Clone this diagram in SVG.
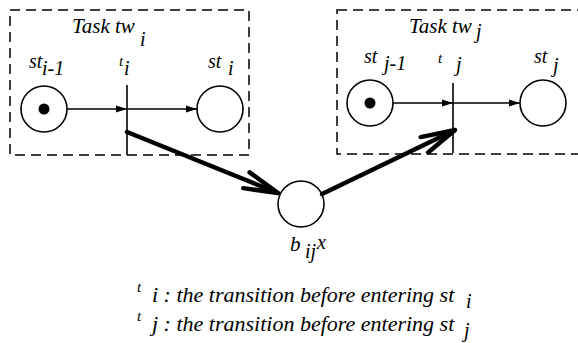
<svg xmlns="http://www.w3.org/2000/svg" width="578" height="343" viewBox="0 0 578 343">
<style>
text{font-family:"Liberation Serif","Times New Roman",serif;font-style:italic;fill:#000}
.box{fill:none;stroke:#000;stroke-width:1.5;stroke-dasharray:10 6}
.place{fill:#fff;stroke:#000;stroke-width:1.6}
.trans{stroke:#000;stroke-width:1.6}
.thin{stroke:#000;stroke-width:1.3;fill:none}
.thick{stroke:#000;stroke-width:4.5;fill:none}
.lbl{font-size:21px}
.sub{font-size:20px}
.tt{font-size:15px}
.note{font-size:22px}
</style>
<defs>
<marker id="ah" markerUnits="userSpaceOnUse" viewBox="-12 -5 13 10" refX="0" refY="0" markerWidth="13" markerHeight="10" orient="auto">
<path d="M-11,-3.5 L0,0 L-11,3.5 Z" fill="#000"/>
</marker>
<marker id="vh" markerUnits="userSpaceOnUse" viewBox="-40 -14 44 28" refX="0" refY="0" markerWidth="44" markerHeight="28" orient="auto" overflow="visible">
<path d="M-34,-8.5 L0,0 L-34,8.5" fill="none" stroke="#000" stroke-width="4.5" stroke-linecap="round" stroke-linejoin="miter"/>
</marker>
</defs>
<g id="task-i">
<rect class="box" x="10" y="10" width="239" height="145"/>
<text class="lbl" x="72" y="33">Task tw</text>
<text class="sub" x="140" y="46">i</text>
</g>
<g id="task-j">
<rect class="box" x="337" y="10" width="250" height="144"/>
<text class="lbl" x="409" y="33">Task tw</text>
<text class="sub" x="476" y="38">j</text>
</g>
<g id="st-i-1">
<circle class="place" cx="44" cy="109" r="23"/>
<circle cx="44" cy="109" r="5.5" fill="#000"/>
<text class="sub" x="29" y="68">st</text>
<text class="sub" x="42" y="75">i-1</text>
</g>
<g id="t-i">
<line class="trans" x1="127" y1="85" x2="127" y2="155"/>
<text class="tt" x="119" y="66">t</text>
<text class="sub" x="124" y="75">i</text>
</g>
<g id="st-i">
<circle class="place" cx="220" cy="109" r="23"/>
<text class="sub" x="208" y="68">st</text>
<text class="sub" x="228" y="75">i</text>
</g>
<g id="st-j-1">
<circle class="place" cx="370" cy="103" r="23"/>
<circle cx="370" cy="103" r="5.5" fill="#000"/>
<text class="sub" x="364" y="63">st</text>
<text class="sub" x="384" y="70">j-1</text>
</g>
<g id="t-j">
<line class="trans" x1="453" y1="83" x2="453" y2="153"/>
<text class="tt" x="438" y="63">t</text>
<text class="sub" x="456" y="71">j</text>
</g>
<g id="st-j">
<circle class="place" cx="543" cy="103" r="23"/>
<text class="sub" x="534" y="63">st</text>
<text class="sub" x="553" y="72">j</text>
</g>
<g id="b-ijx">
<circle class="place" cx="301" cy="204" r="23" stroke-width="2.5"/>
<text class="lbl" x="290" y="251">b</text>
<text class="sub" x="305" y="258">ij</text>
<text class="sub" x="317" y="249">x</text>
</g>
<g id="connectors">
<line class="thin" x1="67" y1="109" x2="127" y2="109" marker-end="url(#ah)"/>
<line class="thin" x1="127" y1="109" x2="197" y2="109" marker-end="url(#ah)"/>
<line class="thin" x1="393" y1="103" x2="453" y2="103" marker-end="url(#ah)"/>
<line class="thin" x1="453" y1="103" x2="520" y2="103" marker-end="url(#ah)"/>
<line class="thick" x1="127" y1="132" x2="278" y2="193" stroke-linecap="round" marker-end="url(#vh)"/>
<line class="thick" x1="322" y1="194" x2="455" y2="130" stroke-linecap="round" marker-end="url(#vh)"/>
</g>
<g id="legend">
<text class="tt" x="137" y="292">t</text>
<text class="note" x="152" y="302">i : the transition before entering st</text>
<text class="sub" x="466" y="308">i</text>
<text class="tt" x="137" y="321">t</text>
<text class="note" x="152" y="331">j : the transition before entering st</text>
<text class="sub" x="464" y="337">j</text>
</g>
</svg>
